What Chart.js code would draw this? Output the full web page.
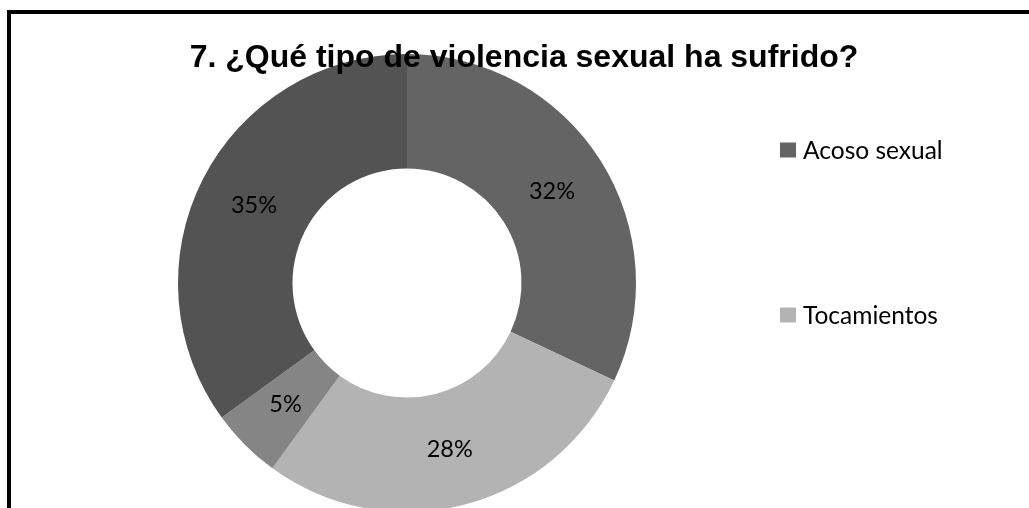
<!DOCTYPE html>
<html>
<head>
<meta charset="utf-8">
<script src="https://cdn.jsdelivr.net/npm/chart.js@4"></script>
<style>
  html, body { margin: 0; padding: 0; background: #fff; overflow: hidden; }
  #wrap { position: relative; width: 1029px; height: 508px; overflow: hidden; }
  #frame { position: absolute; left: 7px; top: 10px; width: 1100px; height: 600px;
           border: 4px solid #000; box-sizing: border-box; pointer-events: none; }
  canvas { position: absolute; left: 0; top: 0; }
</style>
</head>
<body>
<div id="wrap">
  <canvas id="myChart" width="1029" height="540"></canvas>
  <div id="frame"></div>
</div>
<script>
  // data
  var categories = ['Acoso sexual', 'Tocamientos', 'Violación', 'Otros'];
  var values = [32, 28, 5, 35];
  var colors = ['#646464', '#b3b3b3', '#858585', '#535353'];
  var legendCount = 2; // only two entries are visible in the original legend

  var titleText = '7. ¿Qué tipo de violencia sexual ha sufrido?';

  // title drawn on top of the ring, as in the original
  var titlePlugin = {
    id: 'overTitle',
    afterDraw: function (chart) {
      var ctx = chart.ctx;
      ctx.save();
      ctx.fillStyle = '#000';
      ctx.font = 'bold 32px "Liberation Sans"';
      ctx.textAlign = 'center';
      ctx.textBaseline = 'alphabetic';
      ctx.fillText(titleText, 524, 67);
      ctx.restore();
    }
  };

  // percentage labels in the middle of each slice
  var pctPlugin = {
    id: 'pctLabels',
    afterDatasetsDraw: function (chart) {
      var ctx = chart.ctx;
      var meta = chart.getDatasetMeta(0);
      var total = values.reduce(function (a, b) { return a + b; }, 0);
      ctx.save();
      ctx.fillStyle = '#000';
      ctx.font = '23.5px Lato';
      ctx.textAlign = 'center';
      ctx.textBaseline = 'middle';
      meta.data.forEach(function (arc, i) {
        var p = arc.tooltipPosition();
        ctx.fillText(Math.round(values[i] / total * 100) + '%', p.x, p.y);
      });
      ctx.restore();
    }
  };

  // legend on the right with wide spacing
  var legendPlugin = {
    id: 'sideLegend',
    afterDraw: function (chart) {
      var ctx = chart.ctx;
      ctx.save();
      ctx.font = '24.5px Lato';
      ctx.textBaseline = 'middle';
      for (var i = 0; i < legendCount; i++) {
        var y = 150 + i * 165;
        ctx.fillStyle = colors[i];
        ctx.fillRect(780, y - 7.5, 16, 15);
        ctx.fillStyle = '#000';
        ctx.fillText(categories[i], 803, y + 1);
      }
      ctx.restore();
    }
  };

  var ctx = document.getElementById('myChart').getContext('2d');
  var myChart = new Chart(ctx, {
    type: 'doughnut',
    data: {
      labels: categories,
      datasets: [{
        data: values,
        backgroundColor: colors,
        borderWidth: 0,
        hoverOffset: 0,
        radius: 229
      }]
    },
    options: {
      responsive: false,
      animation: false,
      cutout: '50%',
      layout: { padding: { top: 54, bottom: 28, left: 0, right: 215 } },
      plugins: {
        legend: { display: false },
        title: { display: false },
        tooltip: { enabled: false }
      }
    },
    plugins: [pctPlugin, titlePlugin, legendPlugin]
  });
</script>
</body>
</html>
